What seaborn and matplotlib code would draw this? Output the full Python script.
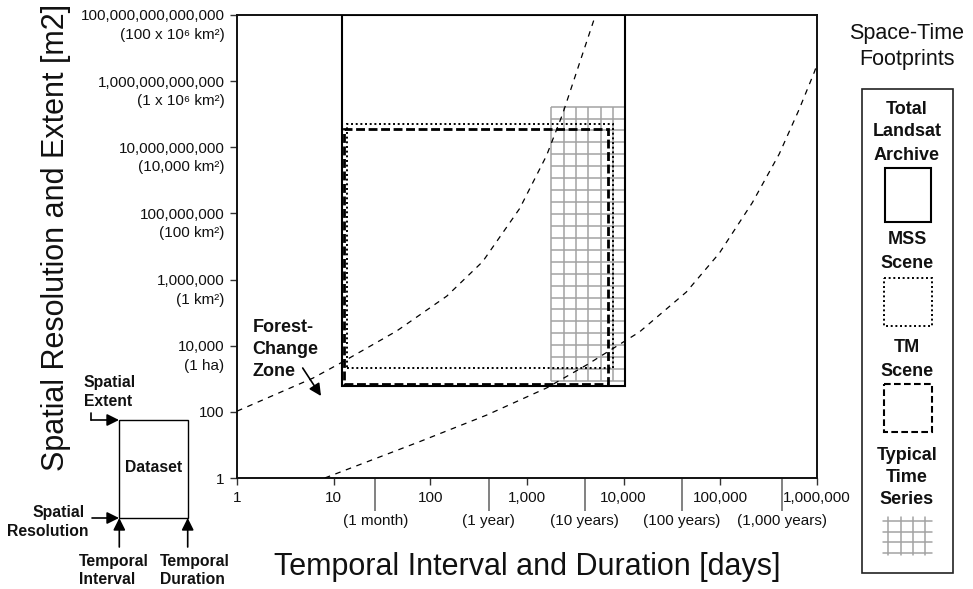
import numpy as np
import pandas as pd
import matplotlib
matplotlib.use("Agg")
import matplotlib.pyplot as plt
import seaborn as sns
from matplotlib.patches import Rectangle
from matplotlib.ticker import FixedLocator, FixedFormatter, NullLocator

sns.set_theme(style="white")
plt.rcParams["font.family"] = ["Liberation Sans", "DejaVu Sans"]

# ---------------- data ----------------
y_ticks = [1, 1e2, 1e4, 1e6, 1e8, 1e10, 1e12, 1e14]
y_tick_labels = ["1", "100", "10,000", "1,000,000", "100,000,000",
                 "10,000,000,000", "1,000,000,000,000", "100,000,000,000,000"]
y_tick_sublabels = ["", "", "(1 ha)", "(1 km²)", "(100 km²)", "(10,000 km²)",
                    "(1 x 10⁶ km²)", "(100 x 10⁶ km²)"]
x_ticks = [1, 10, 100, 1000, 1e4, 1e5, 1e6]
x_tick_labels = ["1", "10", "100", "1,000", "10,000", "100,000", "1,000,000"]
x_period_ticks = [27, 400, 3950, 40000, 430000]
x_period_labels = ["(1 month)", "(1 year)", "(10 years)", "(100 years)", "(1,000 years)"]

# footprints (temporal interval, duration, spatial resolution, extent)
fp_names = ["Total Landsat Archive", "MSS Scene", "TM Scene"]
fp_t0 = [12.2, 13.8, 12.8]
fp_t1 = [10370, 7710, 6920]
fp_a0 = [620, 2160, 697]
fp_a1 = [1e14, 5.0e10, 3.56e10]

# typical time series grid
ts_t = [1783, 10370]
ts_a = [855, 1.7e11]
ts_n_t = 7
ts_n_a = 24

# forest-change zone boundaries (dashed curves)
zone_upper_t = [1, 6.1, 12.2, 45, 148, 348, 840, 1592, 2333, 3493, 5117]
zone_upper_a = [105, 1047, 3162, 2.8e4, 3.16e5, 3.5e6, 1.41e8, 5.6e9, 1.0e11, 3.5e12, 1e14]
zone_lower_t = [8.1, 77.7, 383, 1593, 4130, 14560, 44500, 97700, 214000, 407000, 650000, 940000, 1e6]
zone_lower_a = [1, 12.6, 80, 527, 2612, 2.6e4, 4.2e5, 6.3e6, 2.1e8, 6.3e9, 1.35e11, 1.9e12, 3.2e12]

# ---------------- figure ----------------
W, H = 973, 589
fig = plt.figure(figsize=(W / 100, H / 100), dpi=100)
ax = fig.add_axes([237 / W, (H - 478) / H, 580 / W, 463 / H])
ax.set_xscale("log")
ax.set_yscale("log")
ax.set_xlim(1, 1e6)
ax.set_ylim(1, 1e14)

# time-series grid
tv = np.geomspace(ts_t[0], ts_t[1], ts_n_t)
av = np.geomspace(ts_a[0], ts_a[1], ts_n_a)
for t in tv:
    ax.plot([t, t], ts_a, color="#a3a3a3", lw=1.1, zorder=1, solid_capstyle="butt")
for a in av:
    ax.plot(ts_t, [a, a], color="#a3a3a3", lw=1.1, zorder=1, solid_capstyle="butt")

# footprints
styles = [dict(ls="-", lw=1.5), dict(ls=(0, (1, 1.4)), lw=1.4), dict(ls=(0, (3.2, 1.3)), lw=2.0)]
for t0, t1, a0, a1, st in zip(fp_t0, fp_t1, fp_a0, fp_a1, styles):
    ax.add_patch(Rectangle((t0, a0), t1 - t0, a1 - a0, fill=False, ec="black",
                           zorder=3, **st))

# curves
df_u = pd.DataFrame({"t": zone_upper_t, "a": zone_upper_a})
df_l = pd.DataFrame({"t": zone_lower_t, "a": zone_lower_a})
for d in (df_u, df_l):
    sns.lineplot(data=d, x="t", y="a", ax=ax, color="black", lw=0.9,
                 sort=False, estimator=None, zorder=4)
for ln in ax.get_lines()[-2:]:
    ln.set_linestyle((0, (4.5, 4.5)))

# axes styling
for s in ax.spines.values():
    s.set_color("#111111")
    s.set_linewidth(1.4)
ax.set_xticks(x_ticks, labels=x_tick_labels)
ax.xaxis.set_minor_locator(FixedLocator(x_period_ticks))
ax.xaxis.set_minor_formatter(FixedFormatter(x_period_labels))
ax.set_yticks(y_ticks, labels=y_tick_labels)
ax.yaxis.set_minor_locator(NullLocator())
ax.tick_params(axis="both", which="major", length=5, width=1.0, color="#333333",
               pad=4, labelsize=11, labelcolor="#111111", bottom=True, left=True)
ax.tick_params(axis="x", which="minor", length=24, width=1.3, color="#777777",
               pad=2, labelsize=11, labelcolor="#111111", bottom=True)
for v, sub in zip(y_ticks, y_tick_sublabels):
    if sub:
        ax.annotate(sub, xy=(0, v), xycoords=("axes fraction", "data"),
                    xytext=(-9, -14.4), textcoords="offset points",
                    ha="right", va="center", fontsize=11, color="#111111")

ax.set_xlabel("Temporal Interval and Duration [days]", fontsize=22, color="#111111")
ax.set_ylabel("Spatial Resolution and Extent [m2]", fontsize=22, color="#111111")
ax.xaxis.set_label_coords(0.5, -0.16)
ax.yaxis.set_label_coords((71 - 237) / 580, 0.519)

# ---------------- overlay (legend, inset, annotation) ----------------
ov = fig.add_axes([0, 0, 1, 1])
ov.set_xlim(0, W)
ov.set_ylim(H, 0)
ov.axis("off")
ov.patch.set_alpha(0)

bold = dict(fontweight="bold", color="#111111")

def put(x, y, s, size, ha="center", **kw):
    ov.text(x, y, s, fontsize=size, ha=ha, va="center", **kw)

# legend
put(907, 34, "Space-Time", 15.5, color="#111111")
put(907, 60, "Footprints", 15.5, color="#111111")
ov.add_patch(Rectangle((862, 89), 91, 484, fill=False, ec="#222222", lw=1.2))
for y, s in [(109, "Total"), (132, "Landsat"), (155, "Archive"),
             (240, "MSS"), (263.6, "Scene"), (348, "TM"), (371, "Scene"),
             (456, "Typical"), (477.5, "Time"), (499, "Series")]:
    put(907, y, s, 13, **bold)
ov.add_patch(Rectangle((885, 168), 46, 54, fill=False, ec="black", lw=1.5))
ov.add_patch(Rectangle((884, 277.5), 48, 48, fill=False, ec="black", lw=1.4, ls=(0, (1, 1.4))))
ov.add_patch(Rectangle((884, 384), 48, 48, fill=False, ec="black", lw=1.5, ls=(0, (3.2, 1.6))))
for x in [888, 901, 913, 925]:
    ov.plot([x, x], [517, 555], color="#a3a3a3", lw=1.1)
for y in [521, 532, 542, 553]:
    ov.plot([883, 932], [y, y], color="#a3a3a3", lw=1.1)

# inset explanation
ov.add_patch(Rectangle((119.3, 420), 68.4, 97.7, fill=False, ec="black", lw=1.0))
put(153.5, 468, "Dataset", 11.3, **bold)
put(84, 383, "Spatial", 11.3, ha="left", **bold)
put(84, 401, "Extent", 11.3, ha="left", **bold)
put(85, 512, "Spatial", 11.3, ha="right", **bold)
put(89, 531, "Resolution", 11.3, ha="right", **bold)
put(78.5, 561.5, "Temporal", 11.3, ha="left", **bold)
put(78.5, 579, "Interval", 11.3, ha="left", **bold)
put(160, 561.5, "Temporal", 11.3, ha="left", **bold)
put(160, 579, "Duration", 11.3, ha="left", **bold)

arrow = dict(arrowstyle="-|>,head_length=0.6,head_width=0.3", color="black", lw=1.2,
             shrinkA=0, shrinkB=0, mutation_scale=12)
ov.plot([91, 91], [413, 420], color="black", lw=1.2)
ov.annotate("", xy=(119, 420), xytext=(91, 420), arrowprops=arrow)
ov.annotate("", xy=(119, 518), xytext=(92, 518), arrowprops=arrow)
ov.annotate("", xy=(119.3, 518), xytext=(119.3, 547), arrowprops=arrow)
ov.annotate("", xy=(187.7, 518), xytext=(187.7, 547), arrowprops=arrow)

# forest-change zone label
put(252.7, 327, "Forest-", 13, ha="left", **bold)
put(252.7, 349, "Change", 13, ha="left", **bold)
put(252.7, 371, "Zone", 13, ha="left", **bold)
ov.annotate("", xy=(321, 396), xytext=(302.7, 368), arrowprops=arrow)

fig.savefig("out.png", dpi=100)
